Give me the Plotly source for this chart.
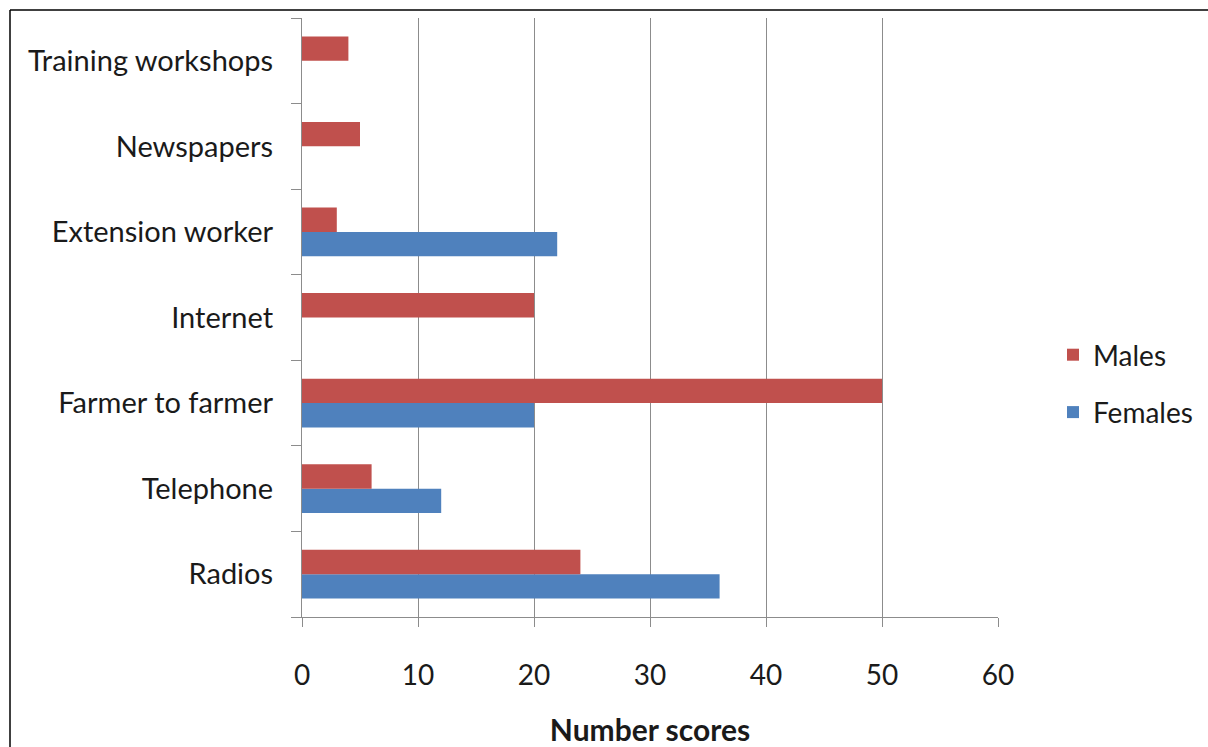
import plotly.graph_objects as go

categories = ["Radios", "Telephone", "Farmer to farmer", "Internet",
              "Extension worker", "Newspapers", "Training workshops"]
males = [24, 6, 50, 20, 3, 5, 4]
females = [36, 12, 20, 0, 22, 0, 0]
x_ticks = [0, 10, 20, 30, 40, 50, 60]

W, H = 1208, 747
L, R, T, B = 302, 210, 18, 130
pw, ph = W - L - R, H - T - B

FONT = "Lato"

fig = go.Figure()
fig.add_trace(go.Bar(y=categories, x=females, name="Females", orientation="h",
                     legendrank=2, legendgroup="f",
                     marker=dict(color="#4F81BD", line=dict(width=0))))
fig.add_trace(go.Bar(y=categories, x=males, name="Males", orientation="h",
                     legendrank=1, legendgroup="m",
                     marker=dict(color="#C0504D", line=dict(width=0))))


def px_x(v):
    return (v - L) / pw


def px_y(v):
    return (H - B - v) / ph


fig.update_layout(
    width=W, height=H,
    margin=dict(l=L, r=R, t=T, b=B, pad=0, autoexpand=False),
    paper_bgcolor="white", plot_bgcolor="white",
    barmode="group", bargap=0.43, bargroupgap=0,
    font=dict(family=FONT, color="#1a1a1a", size=29),
    showlegend=True,
    legend=dict(x=px_x(1053), y=px_y(330), xanchor="left", yanchor="top",
                traceorder="grouped", font=dict(size=28, family=FONT),
                itemwidth=30, tracegroupgap=18, bgcolor="rgba(0,0,0,0)"),
    xaxis=dict(range=[0, 60], tickvals=x_ticks, ticktext=[str(v) for v in x_ticks],
               showgrid=True, gridcolor="#8c8c8c", gridwidth=1.2,
               showline=True, linecolor="#8c8c8c", linewidth=1.2,
               ticks="outside", ticklen=9, tickcolor="#8c8c8c", tickwidth=1.2,
               ticklabelstandoff=24, zeroline=False, automargin=False,
               tickfont=dict(size=28, family=FONT),
               title=dict(text="<b>Number scores</b>", font=dict(size=30, family=FONT),
                          standoff=34)),
    yaxis=dict(type="category", categoryorder="array", categoryarray=categories,
               showgrid=False, showline=True, linecolor="#8c8c8c", linewidth=1.2,
               ticks="outside", ticklen=10, tickcolor="#8c8c8c", tickwidth=1.2,
               tickson="boundaries", ticklabelstandoff=22, automargin=False,
               tickfont=dict(size=29, family=FONT)),
    shapes=[
        dict(type="line", xref="paper", yref="paper",
             x0=px_x(10), x1=px_x(W), y0=px_y(10), y1=px_y(10),
             line=dict(color="black", width=1.5)),
        dict(type="line", xref="paper", yref="paper",
             x0=px_x(10), x1=px_x(10), y0=px_y(10), y1=px_y(H),
             line=dict(color="black", width=1.5)),
    ],
)

fig.write_html("out.html")
